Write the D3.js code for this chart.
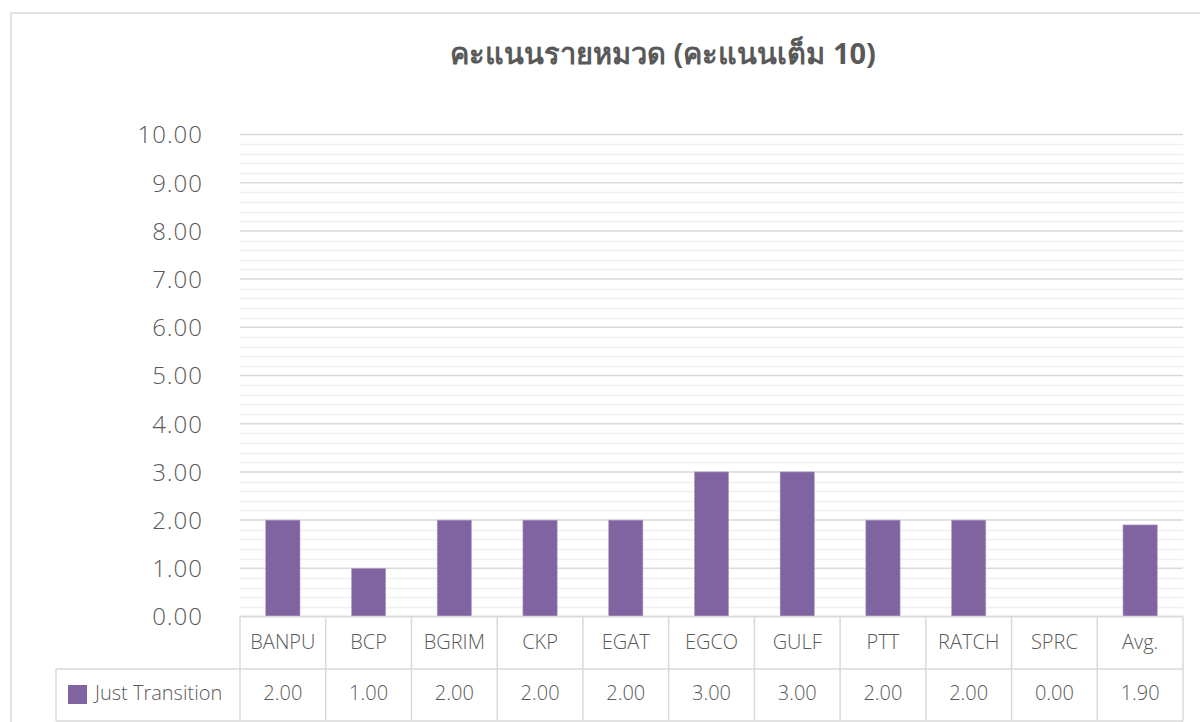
<!DOCTYPE html>
<html><head><meta charset="utf-8">
<script src="https://cdn.jsdelivr.net/npm/d3@7"></script>
<style>body{margin:0;background:#fff}svg{display:block}</style>
</head><body>
<svg id="c" width="1200" height="722"></svg>
<script>
const title = "คะแนนรายหมวด (คะแนนเต็ม 10)";
const categories = ["BANPU","BCP","BGRIM","CKP","EGAT","EGCO","GULF","PTT","RATCH","SPRC","Avg."];
const seriesName = "Just Transition";
const values = [2.00,1.00,2.00,2.00,2.00,3.00,3.00,2.00,2.00,0.00,1.90];
const yTicks = [0,1,2,3,4,5,6,7,8,9,10];

const svg = d3.select("#c");
const font = "'Open Sans', 'Noto Sans', sans-serif";
const txt = "#595959";
const L = 240, R = 1183, T = 134.5, B = 616.5;
const rowH = 51, tableBottom = B + 2*rowH + 1;

// chart border
svg.append("rect").attr("x",11).attr("y",13).attr("width",1300).attr("height",800)
  .attr("fill","#fff").attr("stroke","#d9d9d9").attr("stroke-width",1.5);

svg.append("text").attr("x",663).attr("y",64).attr("text-anchor","middle")
  .attr("font-family","'Noto Sans', 'DejaVu Sans', sans-serif").attr("font-weight","bold")
  .attr("font-size",29).attr("fill",txt).text(title);

const x = d3.scaleBand().domain(categories).range([L,R]).paddingInner(0).paddingOuter(0);
const y = d3.scaleLinear().domain([0,10]).range([B,T]);

// minor gridlines
const minor = d3.range(0,10.001,0.2).filter(v=>Math.abs(v-Math.round(v))>1e-6);
svg.append("g").selectAll("line").data(minor).join("line")
  .attr("x1",L).attr("x2",R).attr("y1",d=>Math.round(y(d))+0.5).attr("y2",d=>Math.round(y(d))+0.5)
  .attr("stroke","#f0f0f0").attr("stroke-width",1.5);
// major gridlines
svg.append("g").selectAll("line").data(yTicks).join("line")
  .attr("x1",L).attr("x2",R).attr("y1",d=>y(d)).attr("y2",d=>y(d))
  .attr("stroke","#d9d9d9").attr("stroke-width",1.5);

// y axis labels
const yAxis = d3.axisLeft(y).tickValues(yTicks).tickFormat(d3.format(".2f")).tickSize(0).tickPadding(0);
const ga = svg.append("g").attr("transform",`translate(203,0)`).call(yAxis);
ga.select(".domain").remove();
ga.selectAll("text").attr("font-family",font).attr("font-weight",300).attr("font-size",24)
  .attr("letter-spacing","1px").attr("fill",txt).attr("dy","0.35em");

// bars
const bw = x.bandwidth()*0.4;
svg.append("g").selectAll("rect").data(values).join("rect")
  .attr("x",(d,i)=>x(categories[i])+x.bandwidth()/2-bw/2)
  .attr("width",bw)
  .attr("y",d=>y(d)).attr("height",d=>y(0)-y(d))
  .attr("fill","#8064A2").attr("stroke","#b8a6cc").attr("stroke-width",0.6);

// data table
const tg = svg.append("g").attr("stroke","#d9d9d9").attr("stroke-width",1.5);
tg.append("line").attr("x1",L).attr("x2",R).attr("y1",B).attr("y2",B);
tg.append("line").attr("x1",56).attr("x2",R).attr("y1",B+rowH+1.5).attr("y2",B+rowH+1.5);
tg.append("line").attr("x1",56).attr("x2",R).attr("y1",tableBottom+1.5).attr("y2",tableBottom+1.5);
tg.append("line").attr("x1",56).attr("x2",56).attr("y1",B+rowH+1.5).attr("y2",tableBottom+1.5);
tg.selectAll("line.v").data(categories.concat(["__end"])).join("line").attr("class","v")
  .attr("x1",(d,i)=>L+i*x.bandwidth()).attr("x2",(d,i)=>L+i*x.bandwidth())
  .attr("y1",B).attr("y2",tableBottom+1.5);

svg.append("g").selectAll("text").data(categories).join("text")
  .attr("x",d=>x(d)+x.bandwidth()/2).attr("y",B+rowH/2).attr("dy","0.35em")
  .attr("text-anchor","middle").attr("font-family",font).attr("font-weight",300).attr("font-size",20).attr("fill",txt).text(d=>d);
svg.append("g").selectAll("text").data(values).join("text")
  .attr("x",(d,i)=>x(categories[i])+x.bandwidth()/2).attr("y",B+rowH*1.5).attr("dy","0.35em")
  .attr("text-anchor","middle").attr("font-family",font).attr("font-weight",300).attr("font-size",20).attr("fill",txt).text(d=>d3.format(".2f")(d));

svg.append("rect").attr("x",68).attr("y",685).attr("width",19).attr("height",19).attr("fill","#8064A2");
svg.append("text").attr("x",95).attr("y",B+rowH*1.5).attr("dy","0.35em")
  .attr("font-family",font).attr("font-weight",300).attr("font-size",20).attr("fill",txt).text(seriesName);
</script>
</body></html>
